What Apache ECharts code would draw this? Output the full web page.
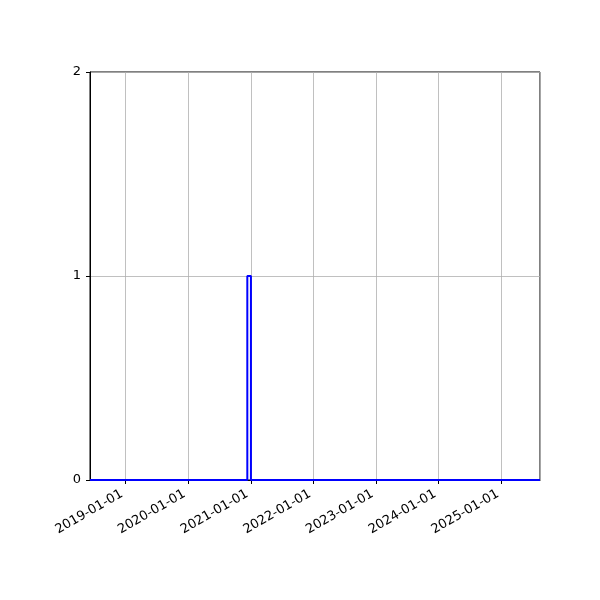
<!DOCTYPE html>
<html>
<head>
<meta charset="utf-8">
<script src="https://cdn.jsdelivr.net/npm/echarts@6/dist/echarts.min.js"></script>
<style>html,body{margin:0;padding:0;background:#fff;}#c{width:600px;height:600px;}</style>
</head>
<body>
<div id="c"></div>
<script>
// Histogram (step outline) data
const binEdges = ['2018-06-09', '2020-12-12', '2021-01-02', '2025-08-14'];
const counts = [0, 1, 0];
const xMin = '2018-06-09';
const xMax = '2025-08-14';
const yTicks = [0, 1, 2];

// build step outline from bins
const stepData = [];
for (let i = 0; i < counts.length; i++) {
  stepData.push([binEdges[i], counts[i]]);
  stepData.push([binEdges[i + 1], counts[i]]);
}

const YEAR = 365 * 24 * 3600 * 1000;
const chart = echarts.init(document.getElementById('c'));
chart.setOption({
  animation: false,
  grid: { left: 90, right: 60, top: 72, bottom: 120, show: true, borderColor: '#000', borderWidth: 1, backgroundColor: 'transparent' },
  xAxis: {
    type: 'time',
    min: xMin,
    max: xMax,
    minInterval: YEAR,
    maxInterval: 366 * 24 * 3600 * 1000,
    axisLine: { show: true, lineStyle: { color: '#000', width: 1 } },
    axisTick: { show: true, length: 4, lineStyle: { color: '#000' } },
    splitLine: { show: true, lineStyle: { color: '#b0b0b0', width: 0.8 } },
    axisLabel: {
      rotate: 30,
      color: '#000',
      fontSize: 13,
      fontFamily: 'DejaVu Sans',
      showMinLabel: false,
      showMaxLabel: false,
      formatter: '{yyyy}-{MM}-{dd}',
      margin: 11,
      padding: [0, 4, 0, 0]
    }
  },
  yAxis: {
    type: 'value',
    min: yTicks[0],
    max: yTicks[yTicks.length - 1],
    interval: 1,
    axisLine: { show: true, lineStyle: { color: '#000', width: 1 } },
    axisTick: { show: true, length: 4, lineStyle: { color: '#000' } },
    splitLine: { show: true, lineStyle: { color: '#b0b0b0', width: 0.8 } },
    axisLabel: { color: '#000', fontSize: 13, fontFamily: 'DejaVu Sans', margin: 9 }
  },
  series: [{
    type: 'line',
    data: stepData,
    showSymbol: false,
    symbol: 'none',
    lineStyle: { color: '#0000ff', width: 2 },
    z: 3
  }]
});
</script>
</body>
</html>
